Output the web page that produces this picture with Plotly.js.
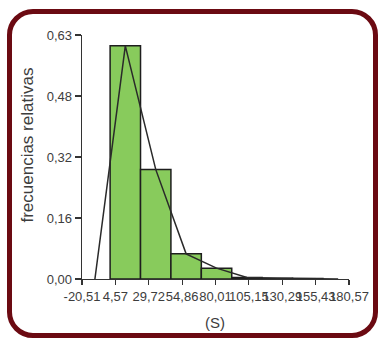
<!DOCTYPE html>
<html>
<head>
<meta charset="utf-8">
<script src="https://cdn.plot.ly/plotly-3.0.1.min.js"></script>
<style>
  html, body { margin: 0; padding: 0; background: #ffffff; }
  #frame {
    position: absolute; left: 7px; top: 9px; width: 371px; height: 329px;
    box-sizing: border-box; border: 5px solid #6b0a12; border-radius: 26px;
  }
  #chart { position: absolute; left: 0; top: 0; width: 381px; height: 339px; }
</style>
</head>
<body>
<div id="frame"></div>
<div id="chart"></div>
<script>
// Class boundaries of the histogram (S) and relative frequency of each class
var binEdges = [0.66, 23.56, 46.46, 69.36, 92.26, 115.16, 138.06, 160.96];
var relFreq  = [0.602, 0.283, 0.065, 0.028, 0.004, 0.002, 0.001];

// Axis ticks
var xTickVals = [-20.51, 4.63, 29.76, 54.9, 80.03, 105.17, 130.3, 155.44, 180.57];
var xTickText = ["-20,51", "4,57", "29,72", "54,86", "80,01", "105,15", "130,29", "155,43", "180,57"];
var yTickVals = [0, 0.1575, 0.315, 0.4725, 0.63];
var yTickText = ["0,00", "0,16", "0,32", "0,48", "0,63"];

var mids = [], widths = [];
for (var i = 0; i < relFreq.length; i++) {
  mids.push((binEdges[i] + binEdges[i + 1]) / 2);
  widths.push(binEdges[i + 1] - binEdges[i]);
}
// Frequency polygon: class marks, closed at zero one class width beyond each end
var w0 = widths[0], wN = widths[widths.length - 1];
var polyX = [mids[0] - w0].concat(mids, [mids[mids.length - 1] + wN]);
var polyY = [0].concat(relFreq, [0]);

var textColor = '#3d3d3d';
var fontFam = '"Liberation Sans", Arial, sans-serif';

var traces = [
  {
    type: 'bar', x: mids, y: relFreq, width: widths,
    marker: { color: '#88cb5c', line: { color: '#1e1e1e', width: 1.5 } },
    hoverinfo: 'skip'
  },
  {
    type: 'scatter', mode: 'lines', x: polyX, y: polyY,
    line: { color: '#2a2a2a', width: 1.5 },
    hoverinfo: 'skip'
  }
];

var layout = {
  width: 381, height: 339,
  margin: { l: 82, r: 32, t: 35, b: 60 },
  paper_bgcolor: 'rgba(0,0,0,0)',
  plot_bgcolor: 'rgba(0,0,0,0)',
  showlegend: false,
  bargap: 0,
  font: { family: fontFam, color: textColor },
  xaxis: {
    range: [-20.51, 180.57], tickmode: 'array',
    tickvals: xTickVals, ticktext: xTickText, tickangle: 0,
    ticks: 'outside', ticklen: 5, tickwidth: 1.2, tickcolor: '#333',
    showline: true, linecolor: '#333', linewidth: 1.3,
    showgrid: false, zeroline: false,
    tickfont: { size: 13, family: fontFam, color: textColor }
  },
  yaxis: {
    range: [0, 0.63], tickmode: 'array',
    tickvals: yTickVals, ticktext: yTickText,
    ticks: 'outside', ticklen: 6, tickwidth: 1.2, tickcolor: '#333',
    showline: true, linecolor: '#333', linewidth: 1.3,
    showgrid: false, zeroline: false,
    tickfont: { size: 13, family: fontFam, color: textColor }
  },
  annotations: [
    {
      text: 'frecuencias relativas', xref: 'paper', yref: 'paper',
      x: -0.204, y: 0.549, xanchor: 'center', yanchor: 'middle',
      textangle: -90, showarrow: false,
      font: { size: 17, family: fontFam, color: textColor }
    },
    {
      text: '(S)', xref: 'paper', yref: 'paper',
      x: 0.498, y: -0.18, xanchor: 'center', yanchor: 'middle',
      showarrow: false,
      font: { size: 15, family: fontFam, color: textColor }
    }
  ]
};

Plotly.newPlot('chart', traces, layout, { staticPlot: true, displayModeBar: false });
</script>
</body>
</html>
